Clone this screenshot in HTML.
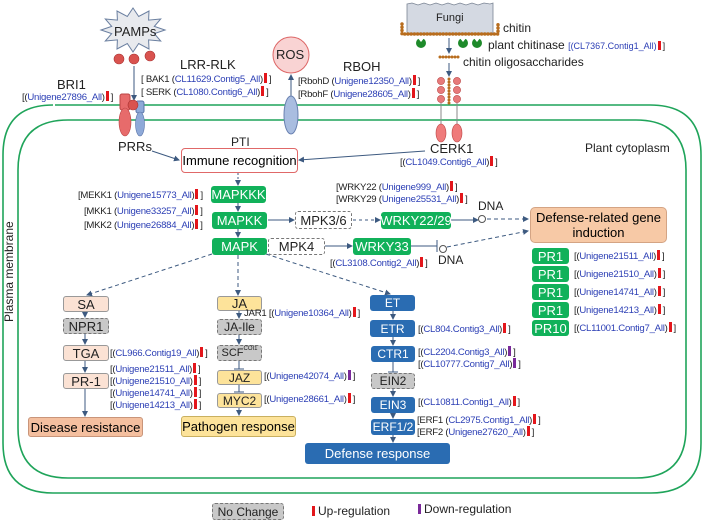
<!DOCTYPE html>
<html><head><meta charset="utf-8"><style>
body{margin:0;background:#fff;}
#w{position:relative;width:708px;height:521px;overflow:hidden;font-family:"Liberation Sans",Arial,sans-serif;}
svg{position:absolute;left:0;top:0;}
.t{position:absolute;white-space:nowrap;line-height:12px;color:#222;}
.g{position:absolute;white-space:nowrap;line-height:12px;font-size:9.6px;color:#222;letter-spacing:-0.25px;}
.g b{font-weight:normal;color:#2c3fb5;}
.u{display:inline-block;width:3px;height:10px;background:#e3161b;margin:0 2px 0 1px;vertical-align:-1px;}
.d{display:inline-block;width:3px;height:10px;background:#7a2a9a;margin:0 2px 0 1px;vertical-align:-1px;}
.bx{position:absolute;display:flex;align-items:center;justify-content:center;box-sizing:border-box;border-radius:3px;font-size:12px;white-space:nowrap;}
.gr{background:#11b15a;color:#fff;font-size:13px;}
.bl{background:#2a6cb2;color:#fff;font-size:12px;}
.ng{background:#c8c8c8;border:1px dashed #777;color:#222;}
.dw{background:#fff;border:1px dashed #777;color:#222;font-size:13px;}
.pe{background:#fbe2d4;border:1px solid #999;color:#222;font-size:13px;}
.ye{background:#fde39a;border:1px solid #999;color:#222;font-size:12px;}
</style></head><body><div id="w">
<svg width="708" height="521" viewBox="0 0 708 521">
<defs>
<marker id="a" markerWidth="6" markerHeight="6" refX="5" refY="3" orient="auto"><path d="M0,0 L6,3 L0,6 z" fill="#3d5a80"/></marker>
</defs>
<path d="M55,105 H650 Q701,105 701,155 V443 Q701,493 651,493 H53 Q3,493 3,443 V155 Q3,105 53,105" fill="none" stroke="#1fa45a" stroke-width="1.6"/>
<path d="M68,120 H636 Q686,120 686,170 V428 Q686,478 636,478 H68 Q18,478 18,428 V170 Q18,120 68,120" fill="none" stroke="#1fa45a" stroke-width="1.6"/>
<polygon points="165,30 154.3,33.6 160.7,41 148.6,39.9 149,49 138.7,43.5 133,52 127.3,43.5 117,49 117.4,39.9 105.3,41 111.7,33.6 101,30 111.7,26.4 105.3,19 117.4,20.1 117,11 127.3,16.5 133,8 138.7,16.5 149,11 148.6,20.1 160.7,19 154.3,26.4" fill="#e8eaee" stroke="#6a7fa0" stroke-width="1"/>
<circle cx="119" cy="59" r="5" fill="#d9534f" stroke="#a33" stroke-width=".6"/>
<circle cx="134" cy="59" r="5" fill="#d9534f" stroke="#a33" stroke-width=".6"/>
<circle cx="150" cy="56" r="5" fill="#d9534f" stroke="#a33" stroke-width=".6"/>
<line x1="134" y1="66" x2="134" y2="100" stroke="#3d5a80" stroke-width="1" marker-end="url(#a)"/>
<rect x="120" y="94" width="10" height="16" rx="2" fill="#e76b6b" stroke="#b44"/>
<ellipse cx="125" cy="122" rx="6" ry="14" fill="#e76b6b" stroke="#b44" stroke-width=".6"/>
<rect x="136" y="101" width="8" height="12" rx="2" fill="#8ea9d8" stroke="#5a75a8"/>
<ellipse cx="140" cy="124" rx="4.5" ry="12" fill="#8ea9d8" stroke="#5a75a8" stroke-width=".6"/>
<circle cx="133" cy="105" r="5" fill="#d9534f" stroke="#a33" stroke-width=".6"/>
<line x1="152" y1="151" x2="179" y2="160" stroke="#3d5a80" marker-end="url(#a)"/>
<circle cx="291" cy="55" r="18" fill="#f9d3d3" stroke="#d66" stroke-width="1"/>
<line x1="291" y1="98" x2="291" y2="75" stroke="#3d5a80" marker-end="url(#a)"/>
<ellipse cx="291" cy="115" rx="7" ry="19" fill="#a9bde0" stroke="#6880b0"/>
<polygon points="407,4 412,3 418,5 424,3 430,5 436,3 442,5 448,3 454,5 460,3 466,5 472,3 478,5 484,3 490,4 493,3 493,33 407,33" fill="#d4d9e2" stroke="#7a8494" stroke-width=".8"/>
<path d="M402,24 V34 H498 V24" fill="none" stroke="#b86d1e" stroke-width="3.5" stroke-dasharray="0 3.2" stroke-linecap="round"/>
<g fill="#1e8a2a">
<circle cx="421" cy="43" r="5"/><circle cx="463" cy="43" r="5"/><circle cx="477" cy="43" r="5"/>
</g>
<g fill="#fff">
<polygon points="417,37 421,42 425,37"/><polygon points="459,37 463,42 467,37"/><polygon points="473,37 477,42 481,37"/>
</g>
<line x1="449" y1="38" x2="449" y2="53" stroke="#3d5a80" marker-end="url(#a)"/>
<line x1="440" y1="57" x2="460" y2="57" stroke="#b86d1e" stroke-width="3" stroke-dasharray="0 3" stroke-linecap="round"/>
<line x1="449" y1="63" x2="449" y2="76" stroke="#3d5a80" marker-end="url(#a)"/>
<g fill="#e77a7a" stroke="#b44" stroke-width=".6">
<circle cx="441" cy="81" r="3.6"/><circle cx="441" cy="90" r="3.6"/><circle cx="441" cy="99" r="3.6"/>
<circle cx="457" cy="81" r="3.6"/><circle cx="457" cy="90" r="3.6"/><circle cx="457" cy="99" r="3.6"/>
</g>
<line x1="449" y1="79" x2="449" y2="104" stroke="#b86d1e" stroke-width="3" stroke-dasharray="0 3" stroke-linecap="round"/>
<line x1="441" y1="103" x2="441" y2="125" stroke="#888"/>
<line x1="457" y1="103" x2="457" y2="125" stroke="#888"/>
<ellipse cx="441" cy="133" rx="5" ry="9" fill="#ef7b7b" stroke="#b44" stroke-width=".6"/>
<ellipse cx="457" cy="133" rx="5" ry="9" fill="#ef7b7b" stroke="#b44" stroke-width=".6"/>
<line x1="425" y1="151" x2="299" y2="160" stroke="#3d5a80" marker-end="url(#a)"/>
<line x1="238" y1="173" x2="238" y2="185" stroke="#3d5a80" stroke-dasharray="2 2" marker-end="url(#a)"/>
<line x1="238" y1="203" x2="238" y2="211" stroke="#3d5a80" marker-end="url(#a)"/>
<line x1="238" y1="228" x2="238" y2="237" stroke="#3d5a80" marker-end="url(#a)"/>
<line x1="268" y1="220" x2="294" y2="220" stroke="#3d5a80" marker-end="url(#a)"/>
<line x1="353" y1="220" x2="380" y2="220" stroke="#3d5a80" stroke-dasharray="3 3" marker-end="url(#a)"/>
<line x1="451" y1="220" x2="478" y2="220" stroke="#3d5a80" marker-end="url(#a)"/>
<circle cx="482" cy="219" r="3.5" fill="#fff" stroke="#555"/>
<line x1="487" y1="219" x2="528" y2="219" stroke="#3d5a80" stroke-dasharray="4 3" marker-end="url(#a)"/>
<line x1="325" y1="246" x2="352" y2="246" stroke="#3d5a80" marker-end="url(#a)"/>
<line x1="411" y1="246" x2="437" y2="246" stroke="#3d5a80"/>
<line x1="437" y1="240" x2="437" y2="252" stroke="#3d5a80"/>
<circle cx="443" cy="249" r="3.5" fill="#fff" stroke="#555"/>
<line x1="447" y1="247" x2="528" y2="231" stroke="#3d5a80" stroke-dasharray="4 3" marker-end="url(#a)"/>
<line x1="212" y1="254" x2="87" y2="295" stroke="#3d5a80" stroke-dasharray="4 3" marker-end="url(#a)"/>
<line x1="238" y1="255" x2="238" y2="295" stroke="#3d5a80" stroke-dasharray="4 3" marker-end="url(#a)"/>
<line x1="266" y1="254" x2="390" y2="294" stroke="#3d5a80" stroke-dasharray="4 3" marker-end="url(#a)"/>
<line x1="85" y1="312" x2="85" y2="317" stroke="#3d5a80" marker-end="url(#a)"/>
<line x1="85" y1="333" x2="85" y2="344" stroke="#3d5a80" marker-end="url(#a)"/>
<line x1="85" y1="360" x2="85" y2="372" stroke="#3d5a80" marker-end="url(#a)"/>
<line x1="85" y1="388" x2="85" y2="416" stroke="#3d5a80" marker-end="url(#a)"/>
<line x1="239" y1="310" x2="239" y2="318" stroke="#3d5a80" marker-end="url(#a)"/>
<line x1="239" y1="335" x2="239" y2="344" stroke="#3d5a80" marker-end="url(#a)"/>
<line x1="239" y1="360" x2="239" y2="369" stroke="#3d5a80"/><line x1="234" y1="369" x2="244" y2="369" stroke="#3d5a80"/>
<line x1="239" y1="385" x2="239" y2="392" stroke="#3d5a80"/><line x1="234" y1="392" x2="244" y2="392" stroke="#3d5a80"/>
<line x1="239" y1="407" x2="239" y2="415" stroke="#3d5a80" marker-end="url(#a)"/>
<line x1="393" y1="311" x2="393" y2="319" stroke="#3d5a80" marker-end="url(#a)"/>
<line x1="393" y1="337" x2="393" y2="345" stroke="#3d5a80" marker-end="url(#a)"/>
<line x1="393" y1="362" x2="393" y2="372" stroke="#3d5a80"/><line x1="388" y1="372" x2="398" y2="372" stroke="#3d5a80"/>
<line x1="393" y1="389" x2="393" y2="396" stroke="#3d5a80" marker-end="url(#a)"/>
<line x1="393" y1="413" x2="393" y2="418" stroke="#3d5a80" marker-end="url(#a)"/>
<line x1="393" y1="435" x2="393" y2="442" stroke="#3d5a80" marker-end="url(#a)"/>
</svg>

<div class="t" style="left:114px;top:26px;font-size:13px;">PAMPs</div>
<div class="t" style="left:57px;top:79px;font-size:13px;">BRI1</div>
<div class="g" style="left:22px;top:91px;">[(<b>Unigene27896_All</b>)<i class="u"></i>]</div>
<div class="t" style="left:118px;top:141px;font-size:13px;">PRRs</div>
<div class="t" style="left:180px;top:59px;font-size:13px;">LRR-RLK</div>
<div class="g" style="left:141px;top:73px;">[ BAK1 (<b>CL11629.Contig5_All</b>)<i class="u"></i>]</div>
<div class="g" style="left:141px;top:86px;">[ SERK (<b>CL1080.Contig6_All</b>)<i class="u"></i>]</div>
<div class="t" style="left:276px;top:49px;font-size:13px;">ROS</div>
<div class="t" style="left:343px;top:61px;font-size:13px;">RBOH</div>
<div class="g" style="left:298px;top:75px;">[RbohD (<b>Unigene12350_All</b>)<i class="u"></i>]</div>
<div class="g" style="left:298px;top:88px;">[RbohF (<b>Unigene28605_All</b>)<i class="u"></i>]</div>
<div class="t" style="left:436px;top:12px;font-size:11px;">Fungi</div>
<div class="t" style="left:503px;top:22px;font-size:12px;">chitin</div>
<div class="t" style="left:488px;top:39px;font-size:12px;">plant chitinase <span style="font-size:9px;color:#2c3fb5;">[(CL7367.Contig1_All)</span><i class="u" style="height:9px"></i><span style="font-size:9px">]</span></div>
<div class="t" style="left:463px;top:56px;font-size:12px;">chitin oligosaccharides</div>
<div class="t" style="left:430px;top:143px;font-size:13px;">CERK1</div>
<div class="g" style="left:400px;top:156px;">[(<b>CL1049.Contig6_All</b>)<i class="u"></i>]</div>
<div class="t" style="left:585px;top:142px;font-size:12px;">Plant cytoplasm</div>
<div class="t" style="left:-35px;top:272px;font-size:12px;transform:rotate(-90deg);width:88px;text-align:center;">Plasma membrane</div>
<div class="t" style="left:231px;top:136px;font-size:12px;">PTI</div>
<div class="bx" style="left:181px;top:148px;width:117px;height:25px;border:1.3px solid #e06868;border-radius:4px;font-size:13px;background:#fff;">Immune recognition</div>

<div class="bx gr" style="left:211px;top:186px;width:55px;height:17px;">MAPKKK</div>
<div class="g" style="left:78px;top:189px;">[MEKK1 (<b>Unigene15773_All</b>)<i class="u"></i>]</div>
<div class="bx gr" style="left:212px;top:212px;width:55px;height:17px;">MAPKK</div>
<div class="g" style="left:84px;top:205px;">[MKK1 (<b>Unigene33257_All</b>)<i class="u"></i>]</div>
<div class="g" style="left:84px;top:219px;">[MKK2 (<b>Unigene26884_All</b>)<i class="u"></i>]</div>
<div class="bx dw" style="left:295px;top:211px;width:57px;height:18px;">MPK3/6</div>
<div class="bx gr" style="left:212px;top:238px;width:55px;height:17px;">MAPK</div>
<div class="bx dw" style="left:268px;top:238px;width:57px;height:17px;">MPK4</div>
<div class="bx gr" style="left:381px;top:212px;width:70px;height:17px;">WRKY22/29</div>
<div class="g" style="left:336px;top:181px;">[WRKY22 (<b>Unigene999_All</b>)<i class="u"></i>]</div>
<div class="g" style="left:336px;top:193px;">[WRKY29 (<b>Unigene25531_All</b>)<i class="u"></i>]</div>
<div class="t" style="left:478px;top:200px;font-size:12px;">DNA</div>
<div class="bx gr" style="left:353px;top:238px;width:58px;height:17px;">WRKY33</div>
<div class="g" style="left:330px;top:257px;">[(<b>CL3108.Contig2_All</b>)<i class="u"></i>]</div>
<div class="t" style="left:438px;top:254px;font-size:12px;">DNA</div>
<div class="bx" style="left:530px;top:207px;width:137px;height:36px;background:#f7c9a6;border:1px solid #d4a484;border-radius:5px;font-size:13px;text-align:center;white-space:normal;line-height:15px;">Defense-related gene induction</div>
<div class="bx gr" style="left:532px;top:248px;width:37px;height:16px;">PR1</div>
<div class="bx gr" style="left:532px;top:266px;width:37px;height:16px;">PR1</div>
<div class="bx gr" style="left:532px;top:284px;width:37px;height:16px;">PR1</div>
<div class="bx gr" style="left:532px;top:302px;width:37px;height:16px;">PR1</div>
<div class="bx gr" style="left:532px;top:320px;width:37px;height:16px;">PR10</div>
<div class="g" style="left:574px;top:250px;">[(<b>Unigene21511_All</b>)<i class="u"></i>]</div>
<div class="g" style="left:574px;top:268px;">[(<b>Unigene21510_All</b>)<i class="u"></i>]</div>
<div class="g" style="left:574px;top:286px;">[(<b>Unigene14741_All</b>)<i class="u"></i>]</div>
<div class="g" style="left:574px;top:304px;">[(<b>Unigene14213_All</b>)<i class="u"></i>]</div>
<div class="g" style="left:574px;top:322px;">[(<b>CL11001.Contig7_All</b>)<i class="u"></i>]</div>

<div class="bx pe" style="left:63px;top:296px;width:46px;height:16px;">SA</div>
<div class="bx ng" style="left:63px;top:318px;width:46px;height:16px;font-size:13px;">NPR1</div>
<div class="bx pe" style="left:63px;top:345px;width:46px;height:16px;">TGA</div>
<div class="g" style="left:110px;top:347px;">[(<b>CL966.Contig19_All</b>)<i class="u"></i>]</div>
<div class="bx pe" style="left:63px;top:373px;width:46px;height:16px;">PR-1</div>
<div class="g" style="left:110px;top:363px;">[(<b>Unigene21511_All</b>)<i class="u"></i>]</div>
<div class="g" style="left:110px;top:375px;">[(<b>Unigene21510_All</b>)<i class="u"></i>]</div>
<div class="g" style="left:110px;top:387px;">[(<b>Unigene14741_All</b>)<i class="u"></i>]</div>
<div class="g" style="left:110px;top:399px;">[(<b>Unigene14213_All</b>)<i class="u"></i>]</div>
<div class="bx" style="left:28px;top:417px;width:115px;height:20px;background:#f4bf9f;border:1px solid #c9957a;font-size:13px;">Disease resistance</div>

<div class="bx ye" style="left:217px;top:296px;width:45px;height:15px;font-size:13px;">JA</div>
<div class="g" style="left:244px;top:307px;">JAR1 [(<b>Unigene10364_All</b>)<i class="u"></i>]</div>
<div class="bx ng" style="left:217px;top:319px;width:45px;height:16px;">JA-Ile</div>
<div class="bx ng" style="left:217px;top:345px;width:45px;height:16px;font-size:11px;">SCF<span style="font-size:6px;position:relative;top:-4px;">COI1</span></div>
<div class="bx ye" style="left:217px;top:370px;width:45px;height:15px;">JAZ</div>
<div class="g" style="left:264px;top:370px;">[(<b>Unigene42074_All</b>)<i class="d"></i>]</div>
<div class="bx ye" style="left:217px;top:393px;width:45px;height:15px;">MYC2</div>
<div class="g" style="left:264px;top:393px;">[(<b>Unigene28661_All</b>)<i class="u"></i>]</div>
<div class="bx" style="left:181px;top:416px;width:115px;height:21px;background:#fde39a;border:1px solid #c9b060;font-size:13px;">Pathogen response</div>

<div class="bx bl" style="left:370px;top:295px;width:45px;height:16px;">ET</div>
<div class="bx bl" style="left:370px;top:320px;width:45px;height:17px;">ETR</div>
<div class="g" style="left:418px;top:323px;">[(<b>CL804.Contig3_All</b>)<i class="u"></i>]</div>
<div class="bx bl" style="left:371px;top:346px;width:44px;height:16px;">CTR1</div>
<div class="g" style="left:418px;top:346px;">[(<b>CL2204.Contig3_All</b>)<i class="d"></i>]</div>
<div class="g" style="left:418px;top:358px;">[(<b>CL10777.Contig7_All</b>)<i class="d"></i>]</div>
<div class="bx ng" style="left:371px;top:373px;width:44px;height:16px;">EIN2</div>
<div class="bx bl" style="left:371px;top:397px;width:44px;height:16px;">EIN3</div>
<div class="g" style="left:418px;top:396px;">[(<b>CL10811.Contig1_All</b>)<i class="u"></i>]</div>
<div class="bx bl" style="left:371px;top:419px;width:44px;height:16px;">ERF1/2</div>
<div class="g" style="left:417px;top:414px;">[ERF1 (<b>CL2975.Contig1_All</b>)<i class="u"></i>]</div>
<div class="g" style="left:417px;top:426px;">[ERF2 (<b>Unigene27620_All</b>)<i class="u"></i>]</div>
<div class="bx bl" style="left:305px;top:443px;width:145px;height:21px;font-size:13px;">Defense response</div>

<div class="bx ng" style="left:212px;top:503px;width:72px;height:17px;font-size:12px;">No Change</div>
<div class="t" style="left:312px;top:505px;font-size:12px;"><i class="u" style="margin:0 3px 0 0"></i>Up-regulation</div>
<div class="t" style="left:418px;top:503px;font-size:12px;"><i class="d" style="margin:0 3px 0 0"></i>Down-regulation</div>
</div></body></html>
